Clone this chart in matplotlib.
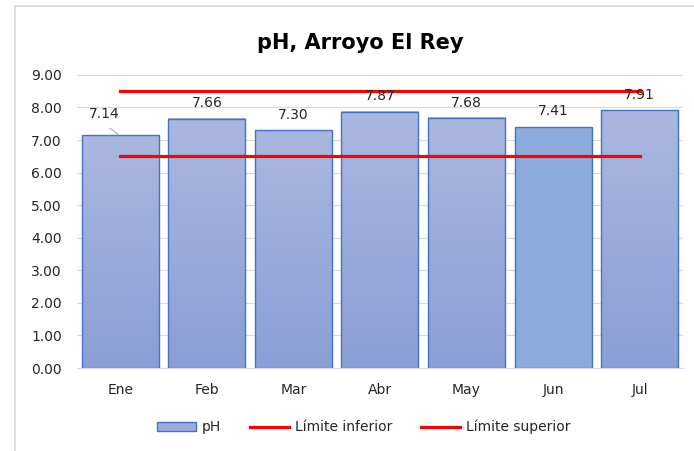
import matplotlib
matplotlib.use("Agg")
import matplotlib.pyplot as plt
import numpy as np
from matplotlib.colors import LinearSegmentedColormap
from matplotlib.lines import Line2D
from matplotlib.patches import Patch

plt.rcParams['font.family'] = ['DejaVu Sans']

# Datos del grafico
meses = ["Ene", "Feb", "Mar", "Abr", "May", "Jun", "Jul"]
ph = [7.14, 7.66, 7.30, 7.87, 7.68, 7.41, 7.91]
limite_inferior = [6.5, 6.5, 6.5, 6.5, 6.5, 6.5, 6.5]
limite_superior = [8.5, 8.5, 8.5, 8.5, 8.5, 8.5, 8.5]

fig = plt.figure(figsize=(6.94, 4.51), dpi=100)
ax = fig.add_axes([0.111, 0.184, 0.873, 0.650])

x = np.arange(len(meses))
ancho = 0.89

# Barras con degradado (Jun va en color liso)
degradado = LinearSegmentedColormap.from_list("deg", ["#8A9FD6", "#AAB7E0"])
barras = ax.bar(x, ph, width=ancho, facecolor="none", edgecolor="#4472C4",
                linewidth=1.0, zorder=3)
for i, b in enumerate(barras):
    x0 = b.get_x()
    h = b.get_height()
    if meses[i] == "Jun":
        ax.bar(x0 + ancho / 2, h, width=ancho, color="#8EAADC", zorder=2)
    else:
        grad = np.linspace(0, 1, 256).reshape(-1, 1)
        ax.imshow(grad, extent=(x0, x0 + ancho, 0, h), origin="lower",
                  cmap=degradado, aspect="auto", zorder=2)

ax.plot(x, limite_inferior, color="#FF0000", linewidth=2.3, zorder=4)
ax.plot(x, limite_superior, color="#FF0000", linewidth=2.3, zorder=4)

# Etiquetas de datos
for i, v in enumerate(ph):
    if i == 0:
        ax.text(-0.19, v + 0.66, f"{v:.2f}", ha="center", va="center",
                fontsize=10, color="#262626", zorder=5)
        ax.plot([-0.12, -0.03], [v + 0.22, v + 0.04], color="#A6A6A6",
                linewidth=0.8, zorder=5)
    else:
        ax.text(i, v + 0.47, f"{v:.2f}", ha="center", va="center",
                fontsize=10, color="#262626", zorder=5)

ax.set_xlim(-0.5, 6.5)
ax.set_ylim(0, 9)
ax.set_yticks(np.arange(0, 9.01, 1))
ax.set_yticklabels([f"{t:.2f}" for t in np.arange(0, 9.01, 1)])
ax.set_xticks(x)
ax.set_xticklabels(meses)
ax.tick_params(axis="both", length=0, labelsize=10, labelcolor="#262626")
ax.tick_params(axis="x", pad=11)
ax.tick_params(axis="y", pad=11)
ax.grid(axis="y", color="#D9D9D9", linewidth=0.8, zorder=0)
ax.set_axisbelow(True)
for s in ["top", "right", "left"]:
    ax.spines[s].set_visible(False)
ax.spines["bottom"].set_color("#D9D9D9")
ax.spines["bottom"].set_zorder(6)

fig.text(0.519, 0.905, "pH, Arroyo El Rey", ha="center", va="center",
         fontsize=15, fontweight="bold", color="#000000")

# Marco del area del grafico
fig.add_artist(Line2D([0.0216, 0.0216], [0.0, 0.987], color="#D9D9D9",
                      linewidth=1.2, transform=fig.transFigure))
fig.add_artist(Line2D([0.0216, 1.0], [0.987, 0.987], color="#D9D9D9",
                      linewidth=1.2, transform=fig.transFigure))

manejadores = [
    Patch(facecolor="#9CACDC", edgecolor="#4472C4", linewidth=1.0),
    Line2D([0], [0], color="#FF0000", linewidth=2.3),
    Line2D([0], [0], color="#FF0000", linewidth=2.3),
]
fig.legend(manejadores, ["pH", "Límite inferior", "Límite superior"],
           loc="center", bbox_to_anchor=(0.524, 0.053), ncol=3, frameon=False,
           fontsize=10, handlelength=2.8, handleheight=0.6, columnspacing=2.1,
           handletextpad=0.4, labelcolor="#262626")

fig.savefig("out.png", dpi=100)
